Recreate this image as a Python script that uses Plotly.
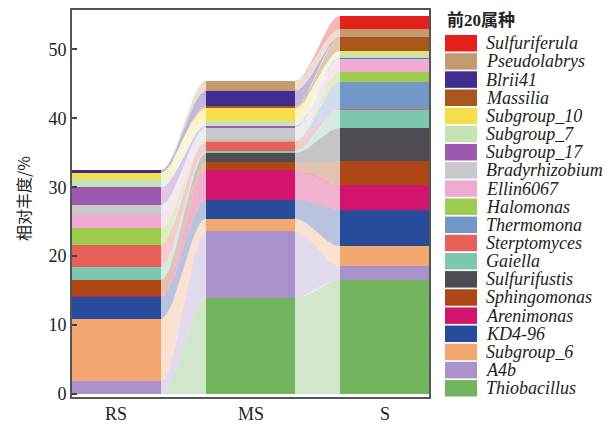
import numpy as np
import plotly.graph_objects as go

# Samples (x categories)
samples = ["RS", "MS", "S"]

# Top-20 genera, stacking order bottom -> top
genera = [
    "Thiobacillus", "A4b", "Subgroup_6", "KD4-96", "Arenimonas",
    "Sphingomonas", "Sulfurifustis", "Gaiella", "Sterptomyces", "Thermomona",
    "Halomonas", "Ellin6067", "Bradyrhizobium", "Subgroup_17", "Subgroup_7",
    "Subgroup_10", "Massilia", "Blrii41", "Pseudolabrys", "Sulfuriferula",
]

# Relative abundance (%) per genus in RS, MS, S
rs_values = [0.00, 1.86, 9.04, 3.19, 0.15, 2.30, 0.00, 1.94, 3.19, 0.00,
             2.47, 1.92, 1.35, 2.57, 1.26, 0.87, 0.00, 0.37, 0.00, 0.00]
ms_values = [13.94, 9.65, 1.84, 2.75, 4.35, 1.12, 1.30, 0.33, 1.35, 0.05,
             0.05, 0.25, 1.70, 0.23, 0.72, 1.80, 0.38, 2.17, 1.45, 0.00]
s_values = [16.59, 1.93, 2.90, 5.32, 3.62, 3.38, 4.84, 2.65, 0.05, 4.05,
            1.45, 1.65, 0.26, 0.12, 0.78, 0.19, 2.03, 0.00, 1.12, 1.93]

colors = [
    "#73b45f", "#a892c9", "#f2a870", "#284b9b", "#d3146f",
    "#ad4716", "#4e4c52", "#7cc6b2", "#e8605a", "#7398c8",
    "#9dcc4f", "#eeaad0", "#c9c9cd", "#9d59ad", "#c6e3b5",
    "#f6df4a", "#a9561c", "#412c8f", "#c49a6e", "#e3201b",
]

# Tick labels
y_ticks = [0, 10, 20, 30, 40, 50]
legend_title = "前20属种"
y_title = "相对丰度/%"

values = np.array([rs_values, ms_values, s_values])  # shape (3, 20)
upper = np.cumsum(values, axis=1)
lower = upper - values

BAR_W = 0.663
X_POS = np.arange(len(samples))

def hexrgba(h, a):
    h = h.lstrip("#")
    r, g, b = int(h[0:2], 16), int(h[2:4], 16), int(h[4:6], 16)
    return f"rgba({r},{g},{b},{a})"

fig = go.Figure()

# Alluvial ribbons between neighbouring columns
t = np.linspace(0, 1, 40)
s_curve = 3 * t**2 - 2 * t**3
for i in range(len(samples) - 1):
    x0 = X_POS[i] + BAR_W / 2
    x1 = X_POS[i + 1] - BAR_W / 2
    xs = x0 + (x1 - x0) * t
    for k, g in enumerate(genera):
        if values[i, k] == 0 and values[i + 1, k] == 0:
            continue
        top = upper[i, k] + (upper[i + 1, k] - upper[i, k]) * s_curve
        bot = lower[i, k] + (lower[i + 1, k] - lower[i, k]) * s_curve
        fig.add_trace(go.Scatter(
            x=np.concatenate([xs, xs[::-1]]),
            y=np.concatenate([top, bot[::-1]]),
            fill="toself", mode="lines", line=dict(width=0),
            fillcolor=hexrgba(colors[k], 0.33),
            hoverinfo="skip", showlegend=False,
        ))

# Stacked columns
for k, g in enumerate(genera):
    fig.add_trace(go.Bar(
        x=X_POS, y=values[:, k], name=g, width=BAR_W,
        marker=dict(color=colors[k], line=dict(width=0)),
        showlegend=False,
    ))

# Plot-area geometry in pixels (used to place the hand-built legend)
W, H = 614, 424
L, R, T, B = 72, 185, 10, 27
pw, ph = W - L - R, H - T - B

def px_x(px):
    return (px - L) / pw

def px_y(py):
    return (H - B - py) / ph

shapes = []
annotations = []
annotations.append(dict(
    x=px_x(445), y=px_y(20), xref="paper", yref="paper",
    text=f"<b>{legend_title}</b>", showarrow=False,
    xanchor="left", yanchor="middle",
    font=dict(family="Liberation Serif, Noto Sans CJK SC", size=17, color="#222"),
))
item_top, pitch, sw_h = 35.0, 18.16, 16.5
for j, k in enumerate(range(len(genera) - 1, -1, -1)):
    y0 = item_top + j * pitch
    shapes.append(dict(
        type="rect", xref="paper", yref="paper",
        x0=px_x(445), x1=px_x(477), y0=px_y(y0), y1=px_y(y0 + sw_h),
        fillcolor=colors[k], line=dict(width=0),
    ))
    annotations.append(dict(
        x=px_x(484), y=px_y(y0 + sw_h / 2), xref="paper", yref="paper",
        text=f"<i>{genera[k]}</i>", showarrow=False,
        xanchor="left", yanchor="middle",
        font=dict(family="Liberation Serif", size=18, color="#222"),
    ))

# Sample names under each column
for xi, name in zip(X_POS, samples):
    annotations.append(dict(
        x=xi, y=px_y(414), xref="x", yref="paper",
        text=name, showarrow=False, xanchor="center", yanchor="middle",
        font=dict(family="Liberation Serif", size=18, color="#222"),
    ))

annotations.append(dict(
    x=px_x(23), y=px_y(198), xref="paper", yref="paper",
    text=y_title, showarrow=False, textangle=-90,
    xanchor="center", yanchor="middle",
    font=dict(family="Noto Sans CJK SC", size=16, color="#222"),
))

fig.update_layout(
    barmode="stack",
    width=W, height=H,
    margin=dict(l=L, r=R, t=T, b=B, pad=0, autoexpand=False),
    plot_bgcolor="white", paper_bgcolor="white",
    showlegend=False,
    shapes=shapes, annotations=annotations,
    xaxis=dict(
        range=[-BAR_W / 2, len(samples) - 1 + BAR_W / 2],
        showticklabels=False, ticks="",
        showgrid=False, zeroline=False, automargin=False,
        showline=True, mirror=True, linecolor="#555", linewidth=2,
    ),
    yaxis=dict(
        range=[-0.43, 55.7], tickvals=y_ticks,
        showgrid=False, zeroline=False,
        ticks="inside", ticklen=5, tickwidth=1.5, tickcolor="#444",
        automargin=False,
        showline=True, mirror=True, linecolor="#555", linewidth=2,
        tickfont=dict(family="Liberation Serif", size=18, color="#222"),
    ),
)

fig.write_html("out.html")
